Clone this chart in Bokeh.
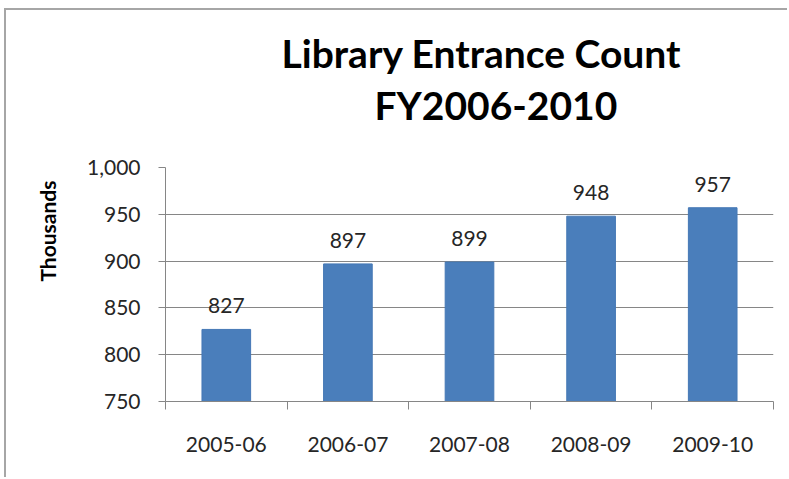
from bokeh.plotting import figure
from bokeh.models import (Range1d, FixedTicker, NumeralTickFormatter, LabelSet,
                          ColumnDataSource, Title)
from bokeh.core.properties import value
from bokeh.embed import file_html
from bokeh.resources import INLINE

# ---- data ----
categories = ["2005-06", "2006-07", "2007-08", "2008-09", "2009-10"]
entrance_thousands = [827, 897, 899, 948, 957]
y_ticks = [750, 800, 850, 900, 950, 1000]
title_lines = ["Library Entrance Count", "FY2006-2010"]
y_axis_title = "Thousands"

FONT = "Lato"
OX, OY = 6, 10            # canvas origin on the page (chart border sits just outside)
W, H = 789 - OX, 479 - OY
Y0, Y1 = 750, 1000
N = len(categories)

positions = [i + 0.5 for i in range(N)]
src = ColumnDataSource(dict(x=positions, top=entrance_thousands,
                            lab=[str(v) for v in entrance_thousands]))

p = figure(width=W, height=H, output_backend="svg", toolbar_location=None,
           x_range=Range1d(0, N), y_range=Range1d(Y0, Y1),
           min_border_left=165 - OX, min_border_right=789 - 773,
           min_border_top=167 - OY, min_border_bottom=479 - 401)
p.styles = {"margin-left": "4px", "margin-top": "8px",
            "border-left": "2px solid #a6a6a6", "border-top": "2px solid #a6a6a6"}
p.outline_line_color = None
p.background_fill_color = "white"
p.border_fill_color = "white"

p.vbar(x="x", top="top", bottom=Y0, width=0.4, source=src,
       fill_color="#4a7ebb", line_color="#4578b5", line_width=1)

p.add_layout(LabelSet(x="x", y="top", text="lab", source=src, y_offset=16,
                      text_align="center", text_baseline="alphabetic",
                      text_font=value(FONT), text_font_size="21px", text_color="#262626"))

# y axis
p.yaxis.ticker = FixedTicker(ticks=y_ticks)
p.yaxis.formatter = NumeralTickFormatter(format="0,0")
p.yaxis.major_tick_out = 7
p.yaxis.major_tick_in = 0
p.yaxis.minor_tick_line_color = None
p.yaxis.axis_line_color = "#868686"
p.yaxis.major_tick_line_color = "#868686"
p.yaxis.major_label_text_font = FONT
p.yaxis.major_label_text_font_size = "21px"
p.yaxis.major_label_text_color = "#262626"
p.yaxis.major_label_standoff = 18

# x axis: labels at centres, tick marks at boundaries (minor ticks)
p.xaxis.ticker = FixedTicker(ticks=positions, minor_ticks=list(range(N + 1)))
p.xaxis.major_label_overrides = {pos: c for pos, c in zip(positions, categories)}
p.xaxis.major_tick_line_color = None
p.xaxis.minor_tick_out = 8
p.xaxis.minor_tick_in = 0
p.xaxis.minor_tick_line_color = "#868686"
p.xaxis.axis_line_color = "#868686"
p.xaxis.major_label_text_font = FONT
p.xaxis.major_label_text_font_size = "21px"
p.xaxis.major_label_text_color = "#262626"
p.xaxis.major_label_standoff = 27

p.xgrid.grid_line_color = None
p.ygrid.ticker = FixedTicker(ticks=y_ticks)
p.ygrid.grid_line_color = "#868686"
p.ygrid.grid_line_width = 1

# spacer between plot area and title block
p.add_layout(Title(text=" ", text_font_size="2px", standoff=32), "above")
# title: second line nearest the plot, first line above it (left-aligned with offsets)
title_offsets = [116, 209]
title_standoffs = [0, 8]
for txt, off, so in reversed(list(zip(title_lines, title_offsets, title_standoffs))):
    p.add_layout(Title(text=txt, align="left", offset=off, text_font=FONT,
                       text_font_style="bold", text_font_size="39px",
                       text_color="black", standoff=so), "above")

# y axis title
p.add_layout(Title(text=y_axis_title, align="right", offset=13, text_font=FONT,
                   text_font_style="bold", text_font_size="21px",
                   text_color="black", standoff=50), "left")

open("out.html", "w").write(file_html(p, INLINE))
